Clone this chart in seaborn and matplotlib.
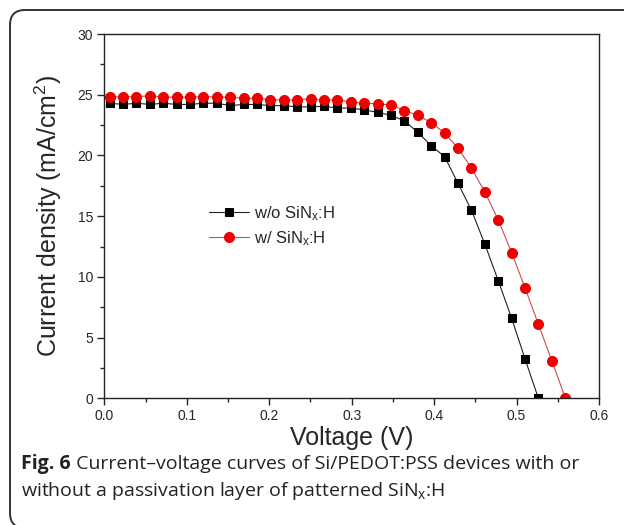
import numpy as np
import pandas as pd
import matplotlib
matplotlib.use("Agg")
import matplotlib.pyplot as plt
import seaborn as sns
from matplotlib.patches import FancyBboxPatch
from matplotlib.transforms import IdentityTransform
from matplotlib.ticker import MultipleLocator

# ---- data ----
v_start = 0.0065
v_step = 0.01625
j_without = [24.3, 24.2, 24.3, 24.2, 24.3, 24.2, 24.2, 24.3, 24.3, 24.1,
             24.2, 24.2, 24.1, 24.1, 24.0, 24.0, 24.05, 23.9, 23.9, 23.75,
             23.55, 23.3, 22.85, 21.9, 20.8, 19.9, 17.7, 15.5, 12.7, 9.7,
             6.6, 3.25, 0.0]
j_with = [24.85, 24.8, 24.85, 24.9, 24.8, 24.8, 24.8, 24.85, 24.8, 24.8,
          24.7, 24.7, 24.6, 24.55, 24.6, 24.65, 24.55, 24.6, 24.4, 24.3,
          24.25, 24.15, 23.7, 23.3, 22.7, 21.85, 20.6, 18.95, 17.0, 14.7,
          12.0, 9.1, 6.1, 3.1, 0.05]
v_without = [round(v_start + i * v_step, 5) for i in range(len(j_without))]
v_with = [round(v_start + i * v_step, 5) for i in range(len(j_with))]
labels = ["w/o SiN$\\mathregular{_x}$:H", "w/ SiN$\\mathregular{_x}$:H"]
x_ticks = [0.0, 0.1, 0.2, 0.3, 0.4, 0.5, 0.6]
y_ticks = [0, 5, 10, 15, 20, 25, 30]
caption_bold = "Fig. 6"
caption_l1 = " Current\u2013voltage curves of Si/PEDOT:PSS devices with or"
caption_l2 = "without a passivation layer of patterned SiN$\\mathregular{_x}$:H"

df1 = pd.DataFrame({"V": v_without, "J": j_without})
df2 = pd.DataFrame({"V": v_with, "J": j_with})

sns.set_style("ticks")
plt.rcParams["font.family"] = ["Liberation Sans", "DejaVu Sans"]
plt.rcParams["axes.linewidth"] = 1.0

W, H = 624, 525
fig = plt.figure(figsize=(W / 100, H / 100), dpi=100)
ax = fig.add_axes([104.3 / W, 1 - 398.3 / H, (599 - 104.3) / W, (398.3 - 34) / H])

sns.lineplot(data=df1, x="V", y="J", ax=ax, color="#222222", lw=0.8,
             marker="s", markersize=6.2, markeredgecolor="black",
             markerfacecolor="black", label=labels[0])
sns.lineplot(data=df2, x="V", y="J", ax=ax, color="#d24a4a", lw=0.8,
             marker="o", markersize=7.2, markeredgecolor="#ee0000",
             markerfacecolor="#ee0000", label=labels[1])

ax.set_xlim(0, 0.6)
ax.set_ylim(0, 30)
ax.set_xticks(x_ticks)
ax.set_yticks(y_ticks)
ax.set_xticklabels([f"{t:.1f}" for t in x_ticks])
ax.set_yticklabels([str(t) for t in y_ticks])
ax.xaxis.set_minor_locator(MultipleLocator(0.05))
ax.yaxis.set_minor_locator(MultipleLocator(2.5))
ax.tick_params(which="major", direction="out", length=5, width=1.0,
               labelsize=10, pad=3, top=False, right=False)
ax.tick_params(which="minor", direction="out", length=3, width=1.0,
               top=False, right=False)
for s in ax.spines.values():
    s.set_visible(True)
    s.set_color("#222222")
ax.set_xlabel("Voltage (V)", fontsize=18, labelpad=2)
ax.set_ylabel("Current density (mA/cm$^{\\mathregular{2}}$)", fontsize=18, labelpad=10)

leg = ax.legend(loc="center left", bbox_to_anchor=(0.212, 0.473), frameon=False,
                fontsize=12, handlelength=2.4, handletextpad=0.3,
                labelspacing=0.4, borderpad=0, borderaxespad=0)

# rounded frame around figure
frame = FancyBboxPatch((10, -3), 650, 515 + 3, boxstyle="round,pad=0,rounding_size=15",
                       transform=IdentityTransform(), fill=False,
                       edgecolor="#333333", lw=1.4)
fig.patches.append(frame)
frame.set_figure(fig)

# caption
cap_fs = 14
cap_col = "#222222"
fx = 21 / W
t1 = fig.text(fx, 1 - 464 / H, caption_bold, fontsize=cap_fs, fontweight="bold",
              family=["Open Sans", "DejaVu Sans"], va="center", ha="left", color=cap_col)
fig.canvas.draw()
bb = t1.get_window_extent(renderer=fig.canvas.get_renderer())
fig.text(bb.x1 / W, 1 - 464 / H, caption_l1, fontsize=cap_fs,
         family=["Open Sans", "DejaVu Sans"], va="center", ha="left", color=cap_col)
fig.text(fx, 1 - 491 / H, caption_l2, fontsize=cap_fs,
         family=["Open Sans", "DejaVu Sans"], va="center", ha="left", color=cap_col)

fig.savefig("out.png", dpi=100)
